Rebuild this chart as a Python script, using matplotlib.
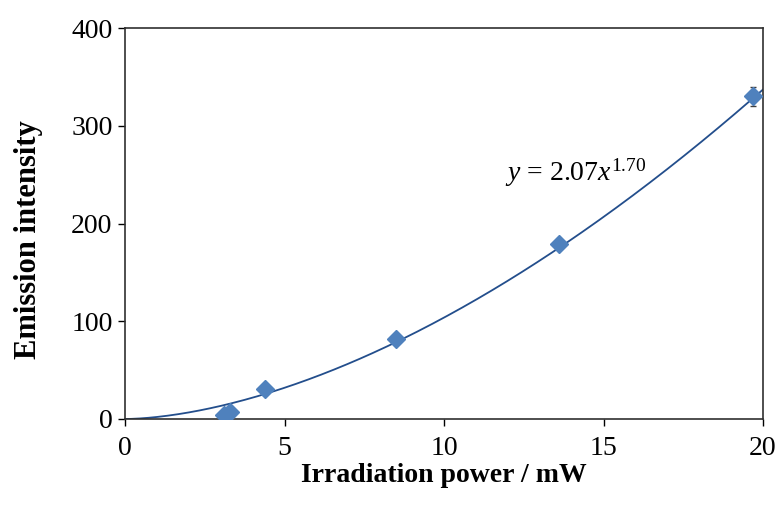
import matplotlib
matplotlib.use('Agg')
import matplotlib.pyplot as plt
import numpy as np

# measured data
power = [3.1, 3.3, 4.4, 8.5, 13.6, 19.7]
intensity = [4, 7, 31, 82, 179, 330]
err = [1, 1, 2, 3, 4, 10]

# power-law fit shown on chart
fit_a = 2.07
fit_b = 1.70

plt.rcParams['font.family'] = ['Liberation Serif', 'DejaVu Serif']
plt.rcParams['mathtext.fontset'] = 'custom'
plt.rcParams['mathtext.it'] = 'Liberation Serif:italic'
plt.rcParams['mathtext.rm'] = 'Liberation Serif'

fig = plt.figure(figsize=(7.79, 5.15), dpi=100)
ax = fig.add_axes([125/779, 1-419/515, 638/779, 391/515])

xf = np.linspace(0, 20, 300)
ax.plot(xf, fit_a*xf**fit_b, color='#234E8C', lw=1.3, zorder=2)
ax.errorbar(power, intensity, yerr=err, fmt='D', color='#4F81BD', ms=9,
            ecolor='#404040', elinewidth=1, capsize=2, zorder=3)

ax.set_xlim(0, 20)
ax.set_ylim(0, 400)
ax.set_xticks([0, 5, 10, 15, 20])
ax.set_yticks([0, 100, 200, 300, 400])
ax.tick_params(direction='out', length=5, width=1, labelsize=20, pad=4)
ax.tick_params(axis='x', pad=7)
for s in ax.spines.values():
    s.set_color('#303030')
    s.set_linewidth(1.2)

ax.set_xlabel('Irradiation power / mW', fontsize=20, fontweight='bold', labelpad=2)
ax.set_ylabel('Emission intensity', fontsize=22, fontweight='bold')
ax.yaxis.set_label_coords(-0.128, 0.458)

ax.text(11.9, 244, r'$y$ = 2.07$x^{1.70}$', fontsize=20, va='baseline')

fig.savefig('out.png', dpi=100)
